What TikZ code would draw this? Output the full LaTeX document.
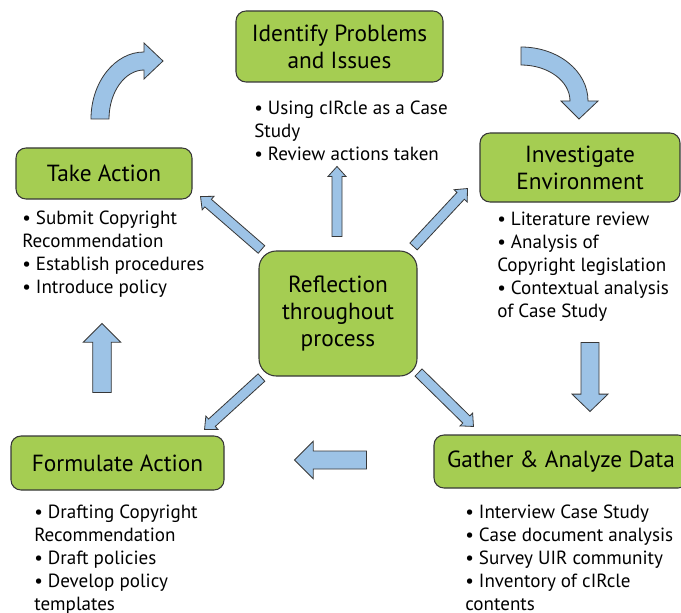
\documentclass[tikz,border=0pt]{standalone}
\usepackage{fontspec}
\setmainfont{PT Sans}
\usetikzlibrary{calc}

\definecolor{stagegreen}{RGB}{165,205,82}
\definecolor{flowblue}{RGB}{157,195,230}
\definecolor{edgegray}{RGB}{55,55,55}

\tikzset{
  stage/.style={draw=edgegray, fill=stagegreen, rounded corners=7.5pt, line width=0.8pt,
    align=center, inner sep=0pt, font=\fontsize{17.5}{20.25}\selectfont},
  notes/.style={anchor=north west, align=left, inner sep=0pt, font=\fontsize{14.3}{17.25}\selectfont},
  flow/.style={draw=edgegray, fill=flowblue, line width=0.6pt, line join=miter},
}

% block arrow: shaft half width, head half width, head length, from, to
\newcommand\flowarrow[5]{%
  \path ($(#5)!#3!(#4)$) coordinate (headbase);
  \draw[flow] ($(#4)!#1!90:(#5)$) -- ($(headbase)!#1!90:(#5)$) -- ($(headbase)!#2!90:(#5)$)
    -- (#5) -- ($(headbase)!#2!-90:(#5)$) -- ($(headbase)!#1!-90:(#5)$) -- ($(#4)!#1!-90:(#5)$) -- cycle;}

\begin{document}
\begin{tikzpicture}[x=0.75pt,y=-0.75pt]
\fill[white] (0,0) rectangle (681,613);
\useasboundingbox (0,0) rectangle (681,613);

% Define nodes
\path (339.5,46.5) node[stage, minimum width=155.25pt, minimum height=53.25pt] (identify) {Identify Problems\\and Issues}
(580,167.5) node[stage, minimum width=150pt, minimum height=51.75pt] (investigate) {Investigate\\Environment}
(561,461.5) node[stage, minimum width=190.5pt, minimum height=39.75pt] (gather) {Gather \& Analyze Data}
(117.5,463) node[stage, minimum width=159.75pt, minimum height=40.5pt] (formulate) {Formulate Action}
(104,173.5) node[stage, minimum width=132pt, minimum height=38.25pt] (take) {Take Action}
(338,313.5) node[stage, rounded corners=13pt, minimum width=118.5pt, minimum height=93.75pt] (reflect) {Reflection\\throughout\\process}
;

% Notes
\path (254,101) node[notes] (identify-notes) {• Using cIRcle as a Case\\Study\\• Review actions taken}
(497,212) node[notes] (investigate-notes) {• Literature review\\• Analysis of\\Copyright legislation\\• Contextual analysis\\of Case Study}
(465,505) node[notes] (gather-notes) {• Interview Case Study\\• Case document analysis\\• Survey UIR community\\• Inventory of cIRcle\\contents}
(34,505) node[notes] (formulate-notes) {• Drafting Copyright\\Recommendation\\• Draft policies\\• Develop policy\\templates}
(22,211) node[notes] (take-notes) {• Submit Copyright\\Recommendation\\• Establish procedures\\• Introduce policy}
;

% Arrow ends
\path (reflect.north west) +(3,-1) coordinate (r-nw)
(take.south east) +(8,-3) coordinate (to-take)
(reflect.north) +(-1,-14) coordinate (r-n)
(reflect.north) +(-1,-84) coordinate (to-identify)
(reflect.north east) +(-4,-4) coordinate (r-ne)
(investigate.south west) +(-12,-14) coordinate (to-investigate)
(reflect.south west) +(3,1) coordinate (r-sw)
(formulate.north east) +(-20,-6) coordinate (to-formulate)
(reflect.south east) +(1,-4) coordinate (r-se)
(gather.north west) +(40,-8) coordinate (to-gather)
(investigate.south) +(10,140) coordinate (inv-out)
(gather.north) +(29,-23) coordinate (gat-in)
(gather.west) +(-67,-1.5) coordinate (gat-out)
(formulate.east) +(70,-3) coordinate (for-in)
(formulate.north) +(-15.5,-43) coordinate (for-out)
(take.south) +(-2,124) coordinate (tak-in)
;

% Reflection arrows
\flowarrow{3.75pt}{6.75pt}{7.5pt}{r-nw}{to-take}
\flowarrow{3.75pt}{6.75pt}{7.5pt}{r-n}{to-identify}
\flowarrow{3.75pt}{6.75pt}{7.5pt}{r-ne}{to-investigate}
\flowarrow{3.75pt}{6.75pt}{7.5pt}{r-sw}{to-formulate}
\flowarrow{3.75pt}{6.75pt}{7.5pt}{r-se}{to-gather}

% Cycle arrows
\flowarrow{6.75pt}{13.5pt}{13pt}{inv-out}{gat-in}
\flowarrow{6.75pt}{14pt}{14pt}{gat-out}{for-in}
\flowarrow{7pt}{14pt}{14pt}{for-out}{tak-in}
\draw[flow] (91,119) .. controls (91,82) and (115,52) .. (144,52) -- (144,43) -- (163,61) -- (144,79) -- (144,70)
  .. controls (125,70) and (109,92) .. (109,119) -- cycle;
\draw[flow] (521,47) .. controls (558,47) and (588,71) .. (588,101) -- (598,101) -- (579,119) -- (561,101) -- (570,101)
  .. controls (570,81) and (548,65) .. (521,65) -- cycle;

\end{tikzpicture}
\end{document}
